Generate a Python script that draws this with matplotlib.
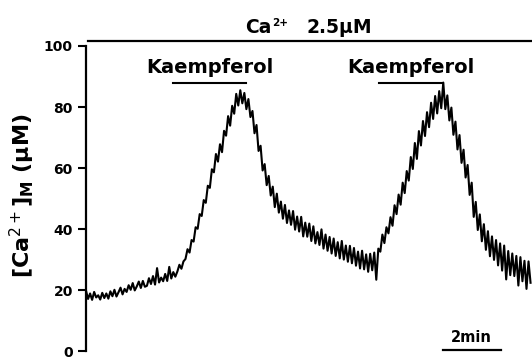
import numpy as np
import matplotlib
matplotlib.use("Agg")
from matplotlib import pyplot as plt

# [Ca2+]_M trace, one sample every 0.07 min
dt = 0.07
ca_trace = [
    19.8, 17.1, 18.9, 16.8, 19.4, 17.6, 18.3, 16.9, 19.1, 17.4,
    18.9, 17.2, 19.6, 18.0, 20.1, 17.9, 19.3, 20.8, 18.6, 20.4,
    19.4, 21.6, 20.1, 22.3, 19.9, 21.2, 22.8, 20.7, 23.0, 21.1,
    21.4, 23.9, 22.0, 24.6, 21.8, 27.2, 22.5, 24.1, 22.9, 25.3,
    23.0, 27.6, 23.8, 25.9, 24.4, 26.1, 28.3, 27.0, 29.4, 30.2,
    33.4, 32.3, 36.4, 35.9, 40.6, 40.1, 44.9, 44.3, 49.5, 48.6,
    54.2, 53.5, 59.6, 58.6, 64.6, 62.1, 67.8, 65.2, 72.2, 70.6,
    77.0, 73.9, 80.4, 77.8, 84.3, 80.5, 85.5, 81.2, 84.6, 79.3,
    82.6, 76.7, 78.7, 71.4, 74.1, 65.6, 67.3, 59.2, 61.3, 54.4,
    57.4, 51.0, 53.9, 47.2, 51.6, 45.4, 49.0, 43.4, 47.9, 42.0,
    46.1, 41.4, 45.9, 39.8, 44.1, 39.2, 44.0, 37.6, 42.1, 37.5,
    41.8, 36.1, 40.9, 35.3, 39.0, 34.8, 39.9, 33.6, 38.2, 32.9,
    37.4, 32.0, 36.9, 31.2, 35.7, 30.4, 36.1, 30.0, 34.6, 29.3,
    34.5, 28.8, 33.8, 28.0, 32.6, 27.1, 32.9, 26.8, 31.7, 26.0,
    31.9, 26.5, 32.3, 23.4, 33.6, 32.6, 38.2, 35.4, 40.6, 38.6,
    43.9, 41.1, 47.8, 44.9, 51.3, 48.0, 55.2, 51.8, 59.0, 55.9,
    63.6, 59.7, 68.2, 63.0, 72.1, 67.4, 75.4, 70.5, 78.3, 73.4,
    81.4, 76.1, 83.6, 77.9, 85.2, 79.6, 88.0, 79.3, 83.8, 75.6,
    79.8, 70.9, 75.2, 66.1, 70.8, 61.7, 66.0, 56.9, 61.0, 51.2,
    55.2, 44.0, 48.9, 39.7, 44.8, 36.0, 41.6, 33.2, 39.3, 31.1,
    37.6, 29.9, 36.4, 28.1, 35.3, 26.4, 34.6, 23.5, 32.8, 24.9,
    32.0, 24.6, 31.2, 21.5, 30.8, 22.9, 29.6, 20.4, 29.4, 22.4,
]

# annotation spans (min)
ca_span = (0.07, 15.38)
kaemp_spans = [(3.0, 5.52), (10.1, 12.31)]
scale_bar = (12.31, 14.31)
yticks = [0, 20, 40, 60, 80, 100]

t = np.arange(len(ca_trace)) * dt

fig = plt.figure(figsize=(5.32, 3.62), dpi=100)
ax = fig.add_axes([0.1617, 0.03, 0.8383, 0.843])

ax.plot(t, ca_trace, color='black', lw=1.5)

ax.set_xlim(0, 15.38)
ax.set_ylim(0, 100)
ax.set_yticks(yticks)
ax.set_xticks([])
for side in ['top', 'right', 'bottom']:
    ax.spines[side].set_visible(False)
ax.spines['left'].set_linewidth(1.6)
ax.tick_params(axis='y', direction='out', length=5.5, width=1.5, pad=4)
for lab in ax.get_yticklabels():
    lab.set_fontsize(10)
    lab.set_fontweight('bold')

ax.set_ylabel(r'[Ca$^{2+}$]$_{\mathbf{M}}$ ($\mathbf{\mu}$M)', fontsize=16,
              fontweight='bold', va='center')
ax.yaxis.set_label_coords(-0.1435, 0.51)

# Ca2+ bath line and label
ax.plot(ca_span, [101.5, 101.5], color='black', lw=1.6, clip_on=False)
ax.text(5.48, 104.2, 'Ca', fontsize=13.5, fontweight='bold', ha='left',
        va='baseline', clip_on=False)
ax.text(6.43, 106.5, '2+', fontsize=7.5, fontweight='bold', ha='left',
        va='baseline', clip_on=False)
ax.text(7.62, 104.2, '2.5\u03bcM', fontsize=13.5, fontweight='bold', ha='left',
        va='baseline', clip_on=False)

# Kaempferol applications
for x0, x1 in kaemp_spans:
    ax.plot([x0, x1], [87.9, 87.9], color='black', lw=1.5)
ax.text(4.28, 91.2, 'Kaempferol', fontsize=14, fontweight='bold',
        ha='center', va='baseline')
ax.text(11.22, 91.2, 'Kaempferol', fontsize=14, fontweight='bold',
        ha='center', va='baseline')

# time scale bar
ax.plot(scale_bar, [0.4, 0.4], color='black', lw=1.6, clip_on=False)
ax.text(13.28, 3.0, '2min', fontsize=10.5, fontweight='bold',
        ha='center', va='baseline')

fig.savefig('out.png', dpi=100)
